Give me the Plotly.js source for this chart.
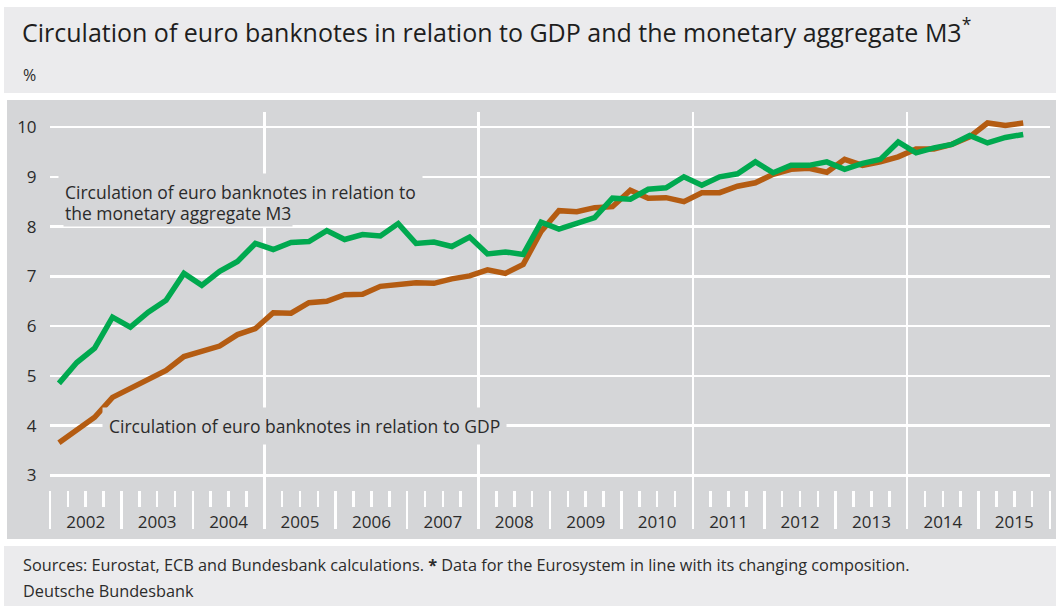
<!DOCTYPE html>
<html>
<head>
<meta charset="utf-8">
<script src="https://cdn.plot.ly/plotly-3.0.1.min.js"></script>
<style>
  html, body { margin: 0; padding: 0; background: #ffffff; }
  #chart { width: 1056px; height: 606px; }
</style>
</head>
<body>
<div id="chart"></div>
<script>
// ---- Data (quarterly, 2002 Q1 – 2015 Q3) ----
const years = [2002, 2003, 2004, 2005, 2006, 2007, 2008, 2009, 2010, 2011, 2012, 2013, 2014, 2015];
const quarters = [
  '2002Q1','2002Q2','2002Q3','2002Q4','2003Q1','2003Q2','2003Q3','2003Q4',
  '2004Q1','2004Q2','2004Q3','2004Q4','2005Q1','2005Q2','2005Q3','2005Q4',
  '2006Q1','2006Q2','2006Q3','2006Q4','2007Q1','2007Q2','2007Q3','2007Q4',
  '2008Q1','2008Q2','2008Q3','2008Q4','2009Q1','2009Q2','2009Q3','2009Q4',
  '2010Q1','2010Q2','2010Q3','2010Q4','2011Q1','2011Q2','2011Q3','2011Q4',
  '2012Q1','2012Q2','2012Q3','2012Q4','2013Q1','2013Q2','2013Q3','2013Q4',
  '2014Q1','2014Q2','2014Q3','2014Q4','2015Q1','2015Q2','2015Q3'
];
const relToM3 = [
  4.85, 5.27, 5.56, 6.18, 5.98, 6.28, 6.52, 7.06,
  6.82, 7.10, 7.30, 7.66, 7.54, 7.68, 7.70, 7.92,
  7.74, 7.84, 7.81, 8.06, 7.66, 7.69, 7.60, 7.79,
  7.45, 7.49, 7.44, 8.09, 7.95, 8.07, 8.18, 8.57,
  8.55, 8.75, 8.78, 9.00, 8.83, 9.00, 9.06, 9.30,
  9.08, 9.23, 9.23, 9.30, 9.15, 9.27, 9.35, 9.70,
  9.48, 9.58, 9.65, 9.83, 9.68, 9.79, 9.85
];
const relToGDP = [
  3.66, 3.90, 4.17, 4.57, 4.74, 4.92, 5.11, 5.39,
  5.49, 5.60, 5.83, 5.95, 6.27, 6.26, 6.47, 6.50,
  6.63, 6.64, 6.80, 6.84, 6.87, 6.86, 6.95, 7.01,
  7.13, 7.06, 7.24, 7.90, 8.32, 8.30, 8.38, 8.40,
  8.73, 8.57, 8.58, 8.50, 8.68, 8.68, 8.81, 8.88,
  9.05, 9.15, 9.17, 9.09, 9.35, 9.23, 9.30, 9.40,
  9.56, 9.56, 9.65, 9.80, 10.08, 10.03, 10.08
];
const yTicks = [3, 4, 5, 6, 7, 8, 9, 10];
const gridYears = [2005, 2008, 2011, 2014];

// quarter label -> mid-quarter position on a fractional-year axis
const qx = quarters.map(function (q) {
  return parseInt(q.slice(0, 4), 10) + (parseInt(q.slice(5), 10) - 0.5) / 4;
});
const yearMid = years.map(function (y) { return y + 0.5; });
const yearText = years.map(String);

// ---- geometry helpers (pixel -> paper) ----
const L = 50, T = 112, PW = 1000, PH = 416;
function px(x) { return (x - L) / PW; }
function py(y) { return (T + PH - y) / PH; }

const FONT = 'Open Sans, Noto Sans, sans-serif';
const TXT = '#2b2b2b';
const PANEL = '#d5d6d8';
const HEAD = '#ebebed';

const traces = [
  {
    x: qx, y: relToM3, xaxis: 'x2', yaxis: 'y', type: 'scatter', mode: 'lines',
    line: { color: '#00a94f', width: 5.5, shape: 'linear' },
    hoverinfo: 'skip', showlegend: false
  },
  {
    x: qx, y: relToGDP, xaxis: 'x', yaxis: 'y', type: 'scatter', mode: 'lines',
    line: { color: '#b45c12', width: 5.5, shape: 'linear' },
    hoverinfo: 'skip', showlegend: false
  },
  // helper (no visible marks) so the year-label axis is created
  {
    x: yearMid, y: yearMid.map(function () { return null; }), xaxis: 'x3', yaxis: 'y',
    type: 'scatter', mode: 'lines', line: { width: 0 }, hoverinfo: 'skip', showlegend: false
  }
];

const layout = {
  width: 1056, height: 606,
  margin: { l: L, r: 1056 - L - PW, t: T, b: 606 - T - PH, pad: 0 },
  paper_bgcolor: '#ffffff',
  plot_bgcolor: 'rgba(0,0,0,0)',
  font: { family: FONT, color: TXT, size: 17 },
  showlegend: false,
  title: {
    text: 'Circulation of euro banknotes in relation to GDP and the monetary aggregate M3<sup>*</sup>',
    x: 22 / 1056, xanchor: 'left', xref: 'container',
    y: 1 - 33 / 606, yanchor: 'middle', yref: 'container',
    font: { family: FONT, size: 25, color: '#1e1e1e' }
  },
  xaxis: {
    range: [2002, 2016], fixedrange: true,
    tickmode: 'array', tickvals: gridYears, showticklabels: false, ticks: '',
    showgrid: true, gridcolor: '#ffffff', gridwidth: 2.5,
    zeroline: false, showline: false
  },
  xaxis2: {
    overlaying: 'x', anchor: 'free', position: py(490), side: 'bottom',
    range: [2002, 2016], fixedrange: true,
    tickmode: 'linear', tick0: 2002, dtick: 1,
    ticks: 'outside', ticklen: 38, tickwidth: 2.5, tickcolor: '#ffffff',
    showticklabels: false, showgrid: false, zeroline: false, showline: false,
    minor: { tick0: 2002, dtick: 0.25, ticks: 'outside', ticklen: 16, tickwidth: 2.5, tickcolor: '#ffffff', showgrid: false }
  },
  xaxis3: {
    overlaying: 'x', anchor: 'free', position: py(510), side: 'bottom',
    range: [2002, 2016], fixedrange: true,
    tickmode: 'array', tickvals: yearMid, ticktext: yearText,
    ticks: '', showgrid: false, zeroline: false, showline: false,
    tickfont: { family: FONT, size: 17, color: TXT }
  },
  yaxis: {
    range: [1.946, 10.301], fixedrange: true,
    tickmode: 'array', tickvals: yTicks,
    ticks: 'outside', ticklen: 9, tickcolor: 'rgba(0,0,0,0)',
    showgrid: true, gridcolor: '#ffffff', gridwidth: 2.5,
    zeroline: false, showline: false,
    tickfont: { family: FONT, size: 17, color: TXT }
  },
  shapes: [
    { type: 'rect', xref: 'paper', yref: 'paper', layer: 'below',
      x0: px(4), x1: px(1056), y0: py(93), y1: py(7), fillcolor: HEAD, line: { width: 0 } },
    { type: 'rect', xref: 'paper', yref: 'paper', layer: 'below',
      x0: px(7), x1: px(1056), y0: py(539), y1: py(100), fillcolor: PANEL, line: { width: 0 } },
    { type: 'rect', xref: 'paper', yref: 'paper', layer: 'below',
      x0: px(4), x1: px(1056), y0: py(606), y1: py(546), fillcolor: HEAD, line: { width: 0 } }
  ],
  annotations: [
    { text: '%', xref: 'paper', yref: 'paper', x: px(21), y: py(75),
      xanchor: 'left', yanchor: 'middle', showarrow: false,
      font: { family: FONT, size: 16, color: TXT } },
    { text: 'Circulation of euro banknotes in relation to', xref: 'paper', yref: 'paper',
      x: px(58), y: py(192), xanchor: 'left', yanchor: 'middle', showarrow: false,
      bgcolor: PANEL, borderpad: 6, font: { family: FONT, size: 17.5, color: TXT } },
    { text: 'the monetary aggregate M3', xref: 'paper', yref: 'paper',
      x: px(63), y: py(213), xanchor: 'left', yanchor: 'middle', showarrow: false,
      bgcolor: PANEL, borderpad: 1, font: { family: FONT, size: 17.5, color: TXT } },
    { text: 'Circulation of euro banknotes in relation to GDP', xref: 'paper', yref: 'paper',
      x: px(102), y: py(426), xanchor: 'left', yanchor: 'middle', showarrow: false,
      bgcolor: PANEL, borderpad: 6, font: { family: FONT, size: 17.5, color: TXT } },
    { text: 'Sources: Eurostat, ECB and Bundesbank calculations. <b>*</b> Data for the Eurosystem in line with its changing composition.',
      xref: 'paper', yref: 'paper', x: px(21), y: py(565), xanchor: 'left', yanchor: 'middle',
      showarrow: false, font: { family: FONT, size: 16.3, color: TXT } },
    { text: 'Deutsche Bundesbank', xref: 'paper', yref: 'paper', x: px(21), y: py(591),
      xanchor: 'left', yanchor: 'middle', showarrow: false,
      font: { family: FONT, size: 16.3, color: TXT } }
  ]
};

Plotly.newPlot('chart', traces, layout, { staticPlot: true, displayModeBar: false });
</script>
</body>
</html>
